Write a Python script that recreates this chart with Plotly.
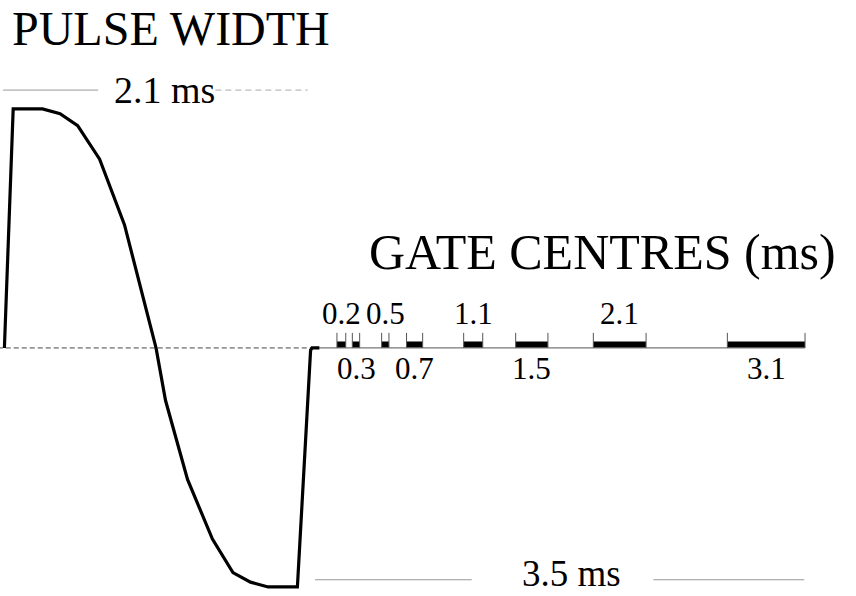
import plotly.graph_objects as go

# Transmitter current waveform (time in ms, turn-off at t = 0; amplitude normalised)
pulse_t = [-2.10, -2.04, -1.84, -1.72, -1.60, -1.45, -1.28, -1.17, -1.065,
           -1.00, -0.85, -0.68, -0.54, -0.42, -0.30, -0.10, -0.01, 0.0, 0.05]
pulse_amp = [0.0, 1.0, 1.0, 0.98, 0.93, 0.79, 0.515, 0.255, 0.0,
             -0.22, -0.55, -0.80, -0.94, -0.98, -1.0, -1.0, -0.01, 0.0, 0.0]

# Receiver gates after turn-off (ms)
gate_centres = [0.2, 0.3, 0.5, 0.7, 1.1, 1.5, 2.1, 3.1]
gate_widths = [0.06, 0.05, 0.05, 0.11, 0.13, 0.22, 0.36, 0.53]
gate_labels = ["0.2", "0.3", "0.5", "0.7", "1.1", "1.5", "2.1", "3.1"]

pulse_width_label = "2.1 ms"
period_label = "3.5 ms"

SERIF = "Liberation Serif, Times New Roman, serif"

fig = go.Figure()

# zero line under the pulse (dashed) and gate time axis (solid)
fig.add_trace(go.Scatter(x=[-2.2, 0.0], y=[0, 0], mode="lines",
                         line=dict(color="#444444", width=1, dash="5px,3px"),
                         hoverinfo="skip"))
axis_end = gate_centres[-1] + gate_widths[-1] / 2
fig.add_trace(go.Scatter(x=[0.0, axis_end], y=[0, 0], mode="lines",
                         line=dict(color="#777777", width=1.3), hoverinfo="skip"))

# gate bars
fig.add_trace(go.Bar(x=gate_centres, y=[0.027] * len(gate_centres), base=0,
                     width=gate_widths, marker=dict(color="black", line=dict(width=0)),
                     hoverinfo="skip"))

# end ticks of each gate
tx, ty = [], []
for c, w in zip(gate_centres, gate_widths):
    for e in (c - w / 2, c + w / 2):
        tx += [e, e, None]
        ty += [0, 0.063, None]
fig.add_trace(go.Scatter(x=tx, y=ty, mode="lines",
                         line=dict(color="#555555", width=1), hoverinfo="skip"))

# transmitter pulse
fig.add_trace(go.Scatter(x=pulse_t, y=pulse_amp, mode="lines",
                         line=dict(color="black", width=3.2), hoverinfo="skip"))

# dimension lines for pulse width and period
fig.add_trace(go.Scatter(x=[-2.11, -1.46], y=[1.079, 1.079], mode="lines",
                         line=dict(color="#999999", width=1), hoverinfo="skip"))
fig.add_trace(go.Scatter(x=[-0.66, -0.03], y=[1.079, 1.079], mode="lines",
                         line=dict(color="#aaaaaa", width=1, dash="6px,4px"), hoverinfo="skip"))
fig.add_trace(go.Scatter(x=[0.02, 1.09], y=[-0.97, -0.97], mode="lines",
                         line=dict(color="#999999", width=1), hoverinfo="skip"))
fig.add_trace(go.Scatter(x=[2.33, 3.36], y=[-0.97, -0.97], mode="lines",
                         line=dict(color="#999999", width=1), hoverinfo="skip"))

ann = []
# gate labels alternate above / below the axis
for i, (c, lab) in enumerate(zip(gate_centres, gate_labels)):
    ann.append(dict(x=c, y=0.146 if i % 2 == 0 else -0.088, xref="x", yref="y",
                    text=lab, showarrow=False, xanchor="center", yanchor="middle",
                    font=dict(family=SERIF, size=31, color="black")))

ann.append(dict(x=-1.01, y=1.079, xref="x", yref="y", text=pulse_width_label,
                showarrow=False, xanchor="center", yanchor="middle",
                font=dict(family=SERIF, size=38, color="black")))
ann.append(dict(x=1.77, y=0, xref="x", yref="paper", text=period_label,
                showarrow=False, xanchor="center", yanchor="bottom",
                font=dict(family=SERIF, size=37, color="black")))
ann.append(dict(x=10 / 856, y=1, xref="paper", yref="paper",
                text="PULSE WIDTH", showarrow=False, xanchor="left", yanchor="top",
                font=dict(family=SERIF, size=48, color="black")))
ann.append(dict(x=838 / 856, y=1 - 252 / 596, xref="paper", yref="paper",
                text="GATE CENTRES (ms)", showarrow=False, xanchor="right", yanchor="middle",
                font=dict(family=SERIF, size=50, color="black")))

fig.update_layout(
    width=856, height=596,
    margin=dict(l=0, r=0, t=0, b=0),
    paper_bgcolor="white", plot_bgcolor="white",
    showlegend=False,
    annotations=ann,
    xaxis=dict(range=[-2.130, 3.713], visible=False, fixedrange=True),
    yaxis=dict(range=[-1.038, 1.456], visible=False, fixedrange=True),
)

fig.write_html("out.html")
